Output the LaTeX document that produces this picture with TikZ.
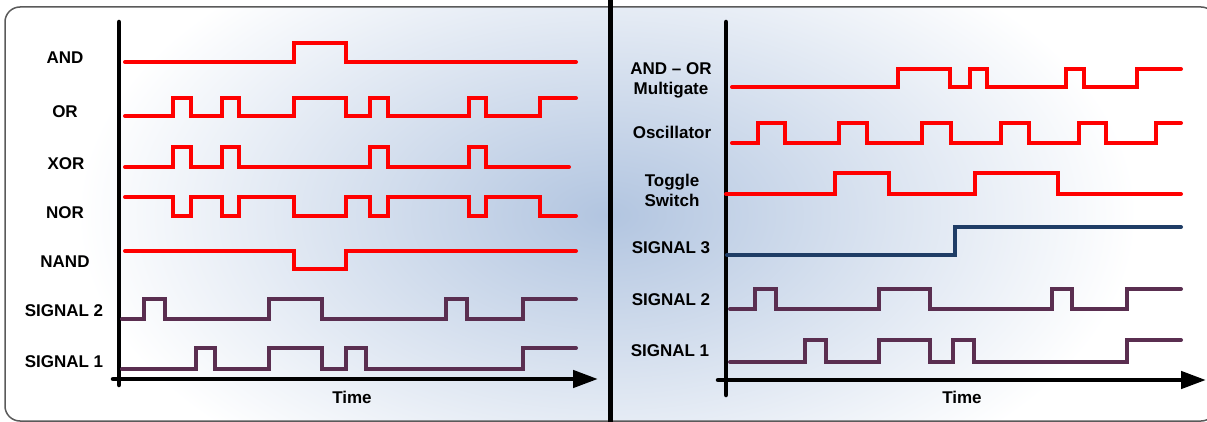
\documentclass[tikz,border=0pt]{standalone}
\usepackage{fontspec}
\setmainfont{Liberation Sans}
\usetikzlibrary{arrows.meta}
\definecolor{sigred}{RGB}{255,0,0}
\definecolor{sigpurple}{RGB}{90,46,80}
\definecolor{signavy}{RGB}{31,61,102}
\definecolor{glow}{RGB}{178,197,224}
\definecolor{framegray}{RGB}{90,90,90}
\pgfdeclareradialshading{bgglow}{\pgfpoint{0bp}{0bp}}{color(0bp)=(glow); color(25bp)=(white); color(50bp)=(white)}
\tikzset{
  wave/.style={line width=4pt, line cap=round, line join=miter},
  redwave/.style={wave, draw=sigred},
  purwave/.style={wave, draw=sigpurple},
  navwave/.style={wave, draw=signavy},
  axisline/.style={line width=4.5pt, line cap=round, draw=black},
  lbl/.style={font=\bfseries\fontsize{17}{20}\selectfont, align=center, inner sep=0pt},
}
\begin{document}
\begin{tikzpicture}[x=1pt, y=-1pt]
\useasboundingbox (0,0) rectangle (1207,422);
% background frame with glow
\begin{scope}
  \clip[rounded corners=15pt] (5,7) rectangle (1216,421);
  \fill[white] (0,0) rectangle (1216,422);
  \shade[shading=bgglow] (607,215) ellipse (530 and 310);
\end{scope}
\draw[framegray, line width=1.5pt, rounded corners=15pt] (5,7) rectangle (1216,421);
% divider
\coordinate (divtop) at (610,0);
\coordinate (divbot) at (610,422);
\draw[line width=5pt] (divtop) -- (divbot);

% ---------- left panel ----------
\coordinate (Lytop) at (119,22);
\coordinate (Lybot) at (119,385);
\coordinate (Lxl) at (113,379);
\coordinate (Lxr) at (598,379);
\draw[axisline] (Lytop) -- (Lybot);
\draw[axisline, -{Triangle[length=25pt,width=17pt]}] (Lxl) -- (Lxr);
\node[lbl] (Ltime) at (352,397) {Time};

\node[lbl] (Land)  at (65,58)  {AND};
\node[lbl] (Lor)   at (65,112) {OR};
\node[lbl] (Lxor)  at (66,164) {XOR};
\node[lbl] (Lnor)  at (65,213) {NOR};
\node[lbl] (Lnand) at (65,262) {NAND};
\node[lbl] (Ls2)   at (64,311) {SIGNAL 2};
\node[lbl] (Ls1)   at (64,362) {SIGNAL 1};

\draw[redwave] (125,62) -| (294,43) -| (346,62) -- (576,62);
\draw[redwave] (125,116) -| (173,98) -| (191,116) -| (222,98) -| (239,116) -| (294,98) -| (346,116) -| (370,98) -| (388,116) -| (469,98) -| (486,116) -| (540,98) -- (576,98);
\draw[redwave] (125,167) -| (173,147) -| (191,167) -| (222,147) -| (239,167) -| (370,147) -| (388,167) -| (469,147) -| (486,167) -- (569,167);
\draw[redwave] (125,197) -| (173,216) -| (191,197) -| (222,216) -| (239,197) -| (294,216) -| (346,197) -| (370,216) -| (388,197) -| (469,216) -| (486,197) -| (540,216) -- (576,216);
\draw[redwave] (125,251) -| (294,269) -| (346,251) -- (576,251);
\draw[purwave] (122,319) -| (144,299) -| (165,319) -| (269,299) -| (322,319) -| (446,299) -| (467,319) -| (523,299) -- (576,299);
\draw[purwave] (122,369) -| (196,348) -| (215,369) -| (269,348) -| (322,369) -| (346,348) -| (366,369) -| (523,348) -- (576,348);

% ---------- right panel ----------
\coordinate (Rytop) at (726,22);
\coordinate (Rybot) at (726,395);
\coordinate (Rxl) at (718,380);
\coordinate (Rxr) at (1206,380);
\draw[axisline] (Rytop) -- (Rybot);
\draw[axisline, -{Triangle[length=25pt,width=17pt]}] (Rxl) -- (Rxr);
\node[lbl] (Rtime) at (962,397) {Time};

\node[lbl] (Randor) at (671,80)  {AND -- OR\\Multigate};
\node[lbl] (Rosc)   at (672,132) {Oscillator};
\node[lbl] (Rtog)   at (672,190) {Toggle\\Switch};
\node[lbl] (Rs3)    at (671,248) {SIGNAL 3};
\node[lbl] (Rs2)    at (671,300) {SIGNAL 2};
\node[lbl] (Rs1)    at (670,351) {SIGNAL 1};

\draw[redwave] (732,87) -| (898,69) -| (950,87) -| (970,69) -| (987,87) -| (1066,69) -| (1084,87) -| (1137,69) -- (1181,69);
\draw[redwave] (732,143) -| (758,123) -| (785,143) -| (839,123) -| (867,143) -| (922,123) -| (951,143) -| (1001,123) -| (1029,143) -| (1079,123) -| (1106,143) -| (1156,123) -- (1181,123);
\draw[redwave] (726,194) -| (835,173) -| (889,194) -| (975,173) -| (1058,194) -- (1181,194);
\draw[navwave] (727,255) -| (955,227) -- (1181,227);
\draw[purwave] (730,309) -| (755,289) -| (776,309) -| (879,289) -| (930,309) -| (1052,289) -| (1072,309) -| (1127,289) -- (1181,289);
\draw[purwave] (730,362) -| (805,340) -| (826,362) -| (879,340) -| (930,362) -| (953,340) -| (974,362) -| (1127,340) -- (1181,340);
\end{tikzpicture}
\end{document}
